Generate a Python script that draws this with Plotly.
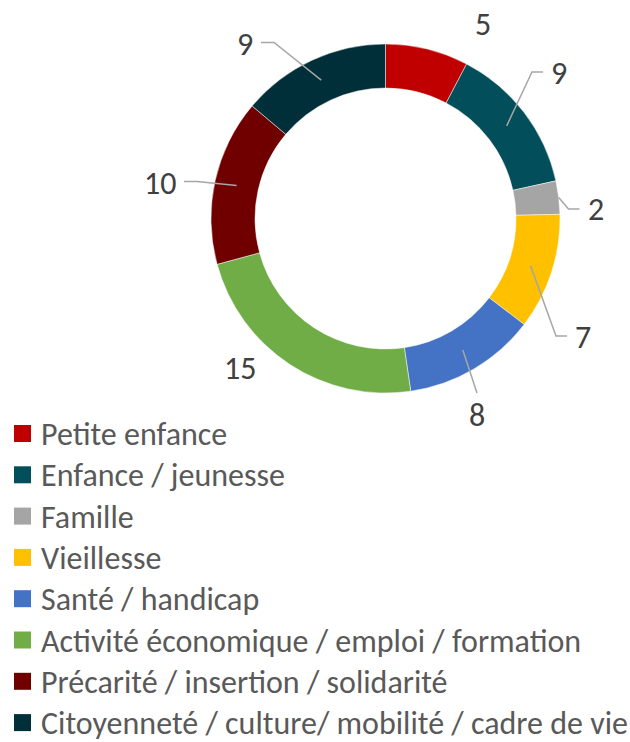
import math
import plotly.graph_objects as go

# ---- data ----
categories = [
    "Petite enfance",
    "Enfance / jeunesse",
    "Famille",
    "Vieillesse",
    "Santé / handicap",
    "Activité économique / emploi / formation",
    "Précarité / insertion / solidarité",
    "Citoyenneté / culture/ mobilité / cadre de vie",
]
values = [5, 9, 2, 7, 8, 15, 10, 9]
colors = ["#C00000", "#024F5B", "#A5A5A5", "#FFC000", "#4472C4", "#70AD47", "#700000", "#002F39"]

# ---- layout (pixels) ----
W, H = 630, 742
CX, CY, R_OUT, R_IN = 385.5, 218.5, 174.5, 130.5
R_MID = (R_OUT + R_IN) / 2
# label placement (offset from centre in px), leader side, leader start radius
label_layout = [
    (97.5, -194.5, None, None),
    (173.5, -145.5, "right", R_MID),
    (210.0, -8.5, "right", R_OUT),
    (197.5, 118.5, "right", R_MID),
    (91.5, 196.5, "top", R_MID),
    (-145.5, 149.5, None, None),
    (-225.5, -35.5, "left", R_MID),
    (-140.5, -174.5, "left", R_MID),
]

def px(x):
    return x / W

def py(y):
    return 1 - y / H

fig = go.Figure(go.Pie(
    labels=categories,
    values=values,
    sort=False,
    direction="clockwise",
    rotation=0,
    hole=R_IN / R_OUT,
    marker=dict(colors=colors, line=dict(color="rgba(255,255,255,0.6)", width=0.8)),
    textinfo="none",
    hoverinfo="label+value",
    showlegend=False,
    domain=dict(x=[px(CX - R_OUT), px(CX + R_OUT)], y=[py(CY + R_OUT), py(CY - R_OUT)]),
))

FONT = "Carlito, Calibri, Lato, sans-serif"
total = sum(values)
annotations = []
shapes = []
cum = 0
lab_font = dict(family=FONT, size=32, color="#404040")
for v, (dx, dy, side, rs) in zip(values, label_layout):
    mid = (cum + v / 2) / total * 2 * math.pi
    cum += v
    lx, ly = CX + dx, CY + dy
    annotations.append(dict(x=px(lx), y=py(ly), xref="paper", yref="paper", text=str(v),
                            showarrow=False, font=lab_font, xanchor="center", yanchor="middle"))
    if side is None:
        continue
    sx = CX + rs * math.sin(mid)
    sy = CY - rs * math.cos(mid)
    half = 8 * len(str(v)) + 8
    if side == "right":
        e1 = (lx - half, ly - 1)
        e2 = (e1[0] - 11, e1[1])
        pts = [e1, e2, (sx, sy)]
    elif side == "left":
        e1 = (lx + half, ly - 1.5)
        e2 = (e1[0] + 13, e1[1])
        pts = [e1, e2, (sx, sy)]
    else:
        pts = [(lx, ly - 22), (sx, sy)]
    path = "M " + " L ".join(f"{px(a):.5f},{py(b):.5f}" for a, b in pts)
    shapes.append(dict(type="path", xref="paper", yref="paper", path=path,
                       line=dict(color="#A6A6A6", width=1.5)))

# manual legend
leg_font = dict(family=FONT, size=32, color="#595959")
for i, (c, col) in enumerate(zip(categories, colors)):
    yc = 433.5 + 41.3 * i
    shapes.append(dict(type="rect", xref="paper", yref="paper",
                       x0=px(14), x1=px(31), y0=py(yc + 8.5), y1=py(yc - 8.5),
                       fillcolor=col, line=dict(width=0)))
    annotations.append(dict(x=px(39), y=py(yc + 1), xref="paper", yref="paper", text=c,
                            showarrow=False, font=leg_font, xanchor="left", yanchor="middle"))

fig.update_layout(
    width=W, height=H,
    margin=dict(l=0, r=0, t=0, b=0),
    paper_bgcolor="white",
    plot_bgcolor="white",
    annotations=annotations,
    shapes=shapes,
)
fig.write_html("out.html", config={"displayModeBar": False},
               post_script="document.body.style.margin='0';document.body.style.overflow='hidden';")
